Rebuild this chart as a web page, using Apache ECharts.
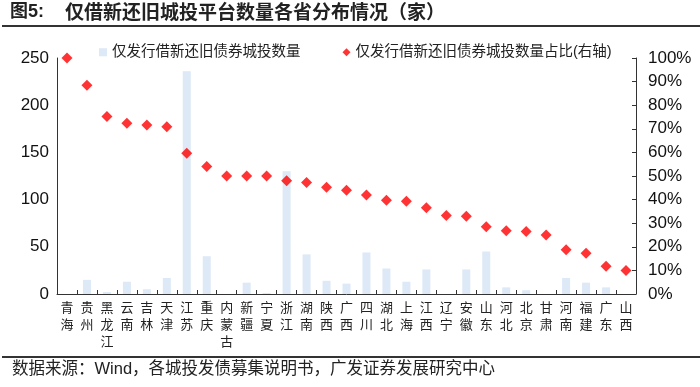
<!DOCTYPE html>
<html><head><meta charset="utf-8">
<script src="https://cdn.jsdelivr.net/npm/echarts@6/dist/echarts.min.js"></script>
<style>html,body{margin:0;padding:0;background:#fff}#c{width:700px;height:387px}</style>
</head><body><div id="c"></div>
<script>
const categories = ['青海','贵州','黑龙江','云南','吉林','天津','江苏','重庆','内蒙古','新疆','宁夏','浙江','湖南','陕西','广西','四川','湖北','上海','江西','辽宁','安徽','山东','河北','北京','甘肃','河南','福建','广东','山西'];
const counts = [0,15,2,13,5,17,236,40,0,12,1,130,42,14,11,44,27,13,26,0,26,45,7,4,0,17,12,7,0];
const shares = [1.00,0.885,0.752,0.723,0.716,0.709,0.596,0.54,0.50,0.50,0.50,0.48,0.472,0.452,0.44,0.42,0.397,0.393,0.365,0.333,0.329,0.285,0.268,0.265,0.25,0.187,0.173,0.118,0.10];
const leftTicks = [0,50,100,150,200,250];
const rightTicks = ['0%','10%','20%','30%','40%','50%','60%','70%','80%','90%','100%'];

const F = 'Liberation Sans, Noto Sans CJK SC, sans-serif';
const chart = echarts.init(document.getElementById('c'));
chart.setOption({
  animation:false,
  textStyle:{fontFamily:F},
  grid:{left:57,right:64,top:58,bottom:93},
  legend:{
    top:40,left:94,itemGap:42,
    textStyle:{fontSize:14.5,color:'#222',fontFamily:F},
    itemWidth:8,itemHeight:8,
    data:[{name:'仅发行借新还旧债券城投数量',icon:'rect'},{name:'仅发行借新还旧债券城投数量占比(右轴)',icon:'diamond'}]
  },
  xAxis:{
    type:'category',data:categories,
    axisLine:{lineStyle:{color:'#333',width:1}},
    axisTick:{show:true,inside:true,length:4,interval:0,lineStyle:{color:'#333'}},
    axisLabel:{interval:0,fontSize:13,color:'#222',lineHeight:17,margin:5,
      fontFamily:'Noto Sans CJK SC',
      formatter:v=>v.split('').join('\n')}
  },
  yAxis:[{
    type:'value',min:leftTicks[0],max:leftTicks[leftTicks.length-1],interval:50,
    axisLine:{show:true,lineStyle:{color:'#333'}},
    axisTick:{show:false},splitLine:{show:false},
    axisLabel:{fontSize:17,color:'#111',margin:8}
  },{
    type:'value',min:0,max:1,interval:0.1,position:'right',
    axisLine:{show:true,lineStyle:{color:'#333'}},
    axisTick:{show:true,inside:true,length:4,lineStyle:{color:'#333'}},
    splitLine:{show:false},
    axisLabel:{fontSize:17,color:'#111',margin:12,formatter:v=>rightTicks[Math.round(v*10)]}
  }],
  series:[{
    name:'仅发行借新还旧债券城投数量',type:'bar',data:counts,
    barWidth:8,itemStyle:{color:'#dde9f6'}
  },{
    name:'仅发行借新还旧债券城投数量占比(右轴)',type:'scatter',yAxisIndex:1,data:shares,
    symbol:'diamond',symbolSize:11,itemStyle:{color:'#ff0000'}
  }],
  graphic:[
    {type:'text',left:10,top:3,style:{text:'图5:',fontSize:18,fontWeight:'bold',fill:'#222',fontFamily:F}},
    {type:'text',left:65,top:2,style:{text:'仅借新还旧城投平台数量各省分布情况（家）',fontSize:19,fontWeight:'bold',fill:'#222',fontFamily:'Noto Sans CJK SC'}},
    {type:'line',shape:{x1:2,y1:26,x2:700,y2:26},style:{stroke:'#333',lineWidth:2}},
    {type:'line',shape:{x1:2,y1:357,x2:700,y2:357},style:{stroke:'#333',lineWidth:2}},
    {type:'text',left:12,top:361,style:{text:'数据来源：Wind，各城投发债募集说明书，广发证券发展研究中心',fontSize:16.5,fill:'#222',fontFamily:F}}
  ]
});
</script></body></html>
